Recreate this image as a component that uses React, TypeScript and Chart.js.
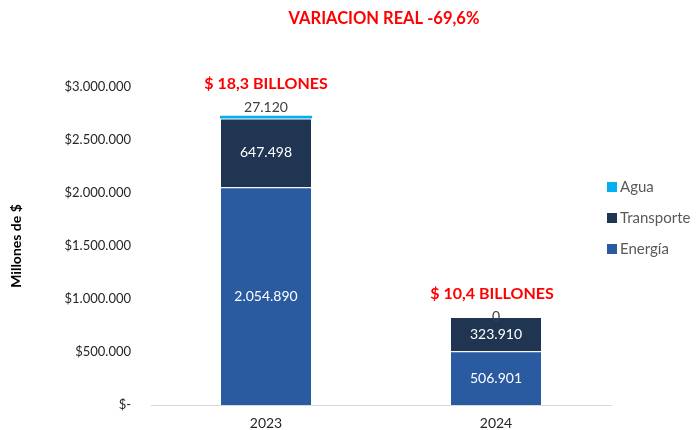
import React, { useEffect, useRef } from "react";
import { Chart, registerables } from "chart.js";
Chart.register(...registerables);

const categories = ["2023", "2024"];
const energia = [2054890, 506901];
const transporte = [647498, 323910];
const agua = [27120, 0];
const totalLabels = ["$ 18,3 BILLONES", "$ 10,4 BILLONES"];
const titleText = "VARIACION REAL -69,6%";
const yTitle = "Millones de $";

const FONT = "Lato, 'Open Sans', sans-serif";
const fmt = (v: number) => Math.round(v).toString().replace(/\B(?=(\d{3})+(?!\d))/g, ".");

export default function App() {
  const ref = useRef<HTMLCanvasElement>(null);
  useEffect(() => {
    const labelsPlugin = {
      id: "labels",
      afterDatasetsDraw(chart: any) {
        const ctx = chart.ctx;
        const y = chart.scales.y;
        ctx.save();
        [0, 1].forEach((di) => {
          const meta = chart.getDatasetMeta(di);
          meta.data.forEach((el: any, i: number) => {
            const v = chart.data.datasets[di].data[i] as number;
            ctx.fillStyle = "#FFFFFF";
            ctx.font = `14px ${FONT}`;
            ctx.textAlign = "center";
            ctx.textBaseline = "middle";
            ctx.fillText(fmt(v), el.x, (el.y + el.base) / 2);
          });
        });
        const metaA = chart.getDatasetMeta(2);
        metaA.data.forEach((el: any, i: number) => {
          const v = agua[i];
          ctx.fillStyle = "#404040";
          ctx.font = `14px ${FONT}`;
          ctx.textAlign = "center";
          ctx.textBaseline = "middle";
          ctx.fillText(fmt(v), el.x, v > 0 ? el.y - 8 : el.y);
        });
        metaA.data.forEach((el: any, i: number) => {
          const tot = energia[i] + transporte[i] + agua[i];
          ctx.fillStyle = "#FF0000";
          ctx.font = `bold 16px ${FONT}`;
          ctx.textAlign = "center";
          ctx.textBaseline = "middle";
          const yy = y.getPixelForValue(tot);
          ctx.fillText(totalLabels[i], el.x + (i === 0 ? 0 : -4), yy - (i === 0 ? 32 : 23));
        });
        ctx.fillStyle = "#FF0000";
        ctx.font = `bold 16.5px ${FONT}`;
        ctx.textAlign = "center";
        ctx.fillText(titleText, 384, 19);
        const items = [
          { t: "Agua", c: "#00B0F0" },
          { t: "Transporte", c: "#1F3552" },
          { t: "Energía", c: "#2A5AA0" },
        ];
        items.forEach((it, k) => {
          const cy = 187 + k * 31;
          ctx.fillStyle = it.c;
          ctx.fillRect(607, cy - 5, 10, 10);
          ctx.fillStyle = "#595959";
          ctx.font = `15px ${FONT}`;
          ctx.textAlign = "left";
          ctx.fillText(it.t, 620, cy);
        });
        ctx.restore();
      },
    };

    const chart = new Chart(ref.current!, {
      type: "bar",
      data: {
        labels: categories,
        datasets: [
          { label: "Energía", data: energia, backgroundColor: "#2A5AA0", borderColor: "rgba(255,255,255,0.35)", borderWidth: 1 },
          { label: "Transporte", data: transporte, backgroundColor: "#1F3552", borderColor: "rgba(255,255,255,0.35)", borderWidth: 1 },
          { label: "Agua", data: agua, backgroundColor: "#00B0F0", borderWidth: 0 },
        ],
      },
      options: {
        animation: false,
        responsive: false,
        maintainAspectRatio: false,
        layout: { padding: { left: 8, right: 85, top: 87, bottom: 0 } },
        datasets: { bar: { barPercentage: 0.4, categoryPercentage: 1 } },
        plugins: { legend: { display: false }, tooltip: { enabled: false }, title: { display: false } },
        scales: {
          x: {
            stacked: true,
            grid: { display: false, drawTicks: false },
            border: { display: true, color: "#D9D9D9", width: 1 },
            ticks: { color: "#262626", font: { family: FONT, size: 14 }, padding: 10 },
            afterFit: (s: any) => { s.height = 25; },
          },
          y: {
            stacked: true,
            min: 0,
            max: 3000000,
            grid: { display: false, drawTicks: false },
            border: { display: false },
            ticks: {
              stepSize: 500000,
              color: "#262626",
              font: { family: FONT, size: 13 },
              padding: 20,
              callback: (v: any) => (v === 0 ? "$-" : "$" + fmt(v)),
            },
            title: { display: true, text: yTitle, color: "#000", font: { family: FONT, size: 14, weight: "bold" }, padding: 0 },
            afterFit: (s: any) => { s.width = 143; s.paddingBottom = 0; s.paddingTop = 0; },
          },
        },
      },
      plugins: [labelsPlugin],
    });
    return () => chart.destroy();
  }, []);
  return (
    <div style={{ position: "fixed", left: 0, top: 0, width: 696, height: 430, background: "#fff" }}>
      <canvas ref={ref} width={696} height={430} style={{ display: "block", width: 696, height: 430 }} />
    </div>
  );
}
